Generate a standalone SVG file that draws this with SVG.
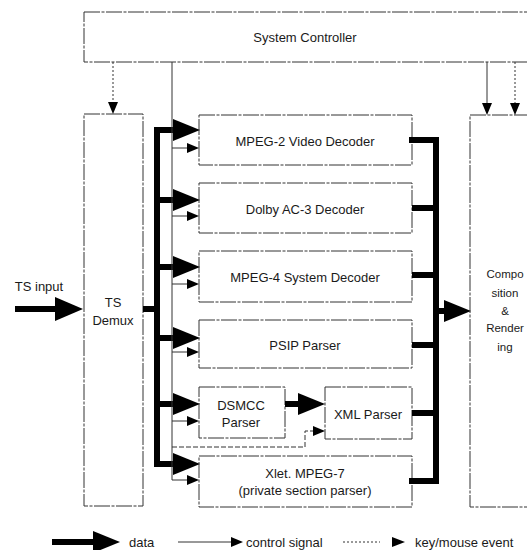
<svg xmlns="http://www.w3.org/2000/svg" width="527" height="550" viewBox="0 0 527 550">
<style>
.box{fill:#fff;stroke:#333;stroke-width:1;stroke-dasharray:16 1.5 3 1.5}
.t{font-family:"Liberation Sans",Arial,sans-serif;font-size:13px;fill:#1a1a1a;text-anchor:middle;dominant-baseline:central}
.c{font-family:"Liberation Sans",Arial,sans-serif;font-size:11.5px;fill:#1a1a1a;text-anchor:middle;dominant-baseline:central}
.l{font-family:"Liberation Sans",Arial,sans-serif;font-size:13px;fill:#1a1a1a;dominant-baseline:central}
.data{stroke:#000;stroke-width:6;fill:none}
.bus{stroke:#000;stroke-width:6;fill:none;stroke-linecap:square}
.ctrl{stroke:#333;stroke-width:1;fill:none}
.key{stroke:#333;stroke-width:1;fill:none;stroke-dasharray:2 2}
.dash{stroke:#333;stroke-width:1;fill:none;stroke-dasharray:5 2}
</style>
<defs>
<marker id="dh" markerUnits="userSpaceOnUse" viewBox="0 0 27 22" markerWidth="27" markerHeight="22" refX="0" refY="11" orient="auto"><path d="M0,0 L27,11 L0,22 z" fill="#000"/></marker>
<marker id="dhL" markerUnits="userSpaceOnUse" viewBox="0 0 28 24" markerWidth="28" markerHeight="24" refX="0" refY="12" orient="auto"><path d="M0,0 L28,12 L0,24 z" fill="#000"/></marker>
<marker id="ch" markerUnits="userSpaceOnUse" viewBox="0 0 12 10" markerWidth="12" markerHeight="10" refX="0" refY="5" orient="auto"><path d="M0,0 L12,5 L0,10 z" fill="#000"/></marker>
</defs>

<g id="sc"><rect class="box" x="84" y="12" width="450" height="50"/><text class="t" x="305" y="37">System Controller</text></g>
<g id="demux"><rect class="box" x="84" y="114" width="59" height="392"/><text class="t" x="113" y="302">TS</text><text class="t" x="113" y="320">Demux</text></g>
<g id="mpeg2"><rect class="box" x="199" y="115" width="213" height="50"/><text class="t" x="305" y="141">MPEG-2 Video Decoder</text></g>
<g id="dolby"><rect class="box" x="199" y="183" width="213" height="50"/><text class="t" x="305" y="209">Dolby AC-3 Decoder</text></g>
<g id="mpeg4"><rect class="box" x="199" y="251" width="213" height="51"/><text class="t" x="305" y="277">MPEG-4 System Decoder</text></g>
<g id="psip"><rect class="box" x="199" y="320" width="213" height="48"/><text class="t" x="305" y="345">PSIP Parser</text></g>
<g id="dsmcc"><rect class="box" x="199" y="387" width="86" height="51"/><text class="t" x="241" y="405">DSMCC</text><text class="t" x="241" y="422">Parser</text></g>
<g id="xml"><rect class="box" x="325" y="387" width="87" height="52"/><text class="t" x="368" y="414">XML Parser</text></g>
<g id="xlet"><rect class="box" x="199" y="456" width="213" height="51"/><text class="t" x="305" y="473">Xlet. MPEG-7</text><text class="t" x="305" y="490">(private section parser)</text></g>
<g id="comp"><rect class="box" x="470" y="115" width="70" height="392"/><text class="c" x="505" y="274">Compo</text><text class="c" x="505" y="293">sition</text><text class="c" x="505" y="311">&amp;</text><text class="c" x="505" y="328">Render</text><text class="c" x="505" y="347">ing</text></g>
<g id="tsinput"><text class="t" x="39" y="286">TS input</text></g>

<g id="connectors">
<path class="data" d="M15,309 H55" marker-end="url(#dhL)"/>
<path class="data" d="M143,309 H157"/>
<path class="bus" d="M157,130 V464"/>
<path class="data" d="M157,130 H173" marker-end="url(#dh)"/>
<path class="data" d="M157,200 H173" marker-end="url(#dh)"/>
<path class="data" d="M157,267 H173" marker-end="url(#dh)"/>
<path class="data" d="M157,338 H173" marker-end="url(#dh)"/>
<path class="data" d="M157,404 H173" marker-end="url(#dh)"/>
<path class="data" d="M157,464 H173" marker-end="url(#dh)"/>
<path class="ctrl" d="M172,62 V480"/>
<path class="ctrl" d="M172,148 H187" marker-end="url(#ch)"/>
<path class="ctrl" d="M172,216 H187" marker-end="url(#ch)"/>
<path class="ctrl" d="M172,284 H187" marker-end="url(#ch)"/>
<path class="ctrl" d="M172,352 H187" marker-end="url(#ch)"/>
<path class="ctrl" d="M172,421 H187" marker-end="url(#ch)"/>
<path class="ctrl" d="M172,480 H187" marker-end="url(#ch)"/>
<path class="dash" d="M172,447 H305 V431 H313" marker-end="url(#ch)"/>
<path class="data" d="M285,404 H298" marker-end="url(#dh)"/>
<path class="bus" d="M412,140 H436 V481 H412"/>
<path class="data" d="M412,208 H436"/>
<path class="data" d="M412,275 H436"/>
<path class="data" d="M412,345 H436"/>
<path class="data" d="M412,413 H436"/>
<path class="data" d="M436,311 H444" marker-end="url(#dh)"/>
<path class="key" d="M113,62 V102" marker-end="url(#ch)"/>
<path class="ctrl" d="M487,62 V103" marker-end="url(#ch)"/>
<path class="key" d="M515,62 V103" marker-end="url(#ch)"/>
</g>

<g id="legend">
<path class="data" d="M52,542 H93" marker-end="url(#dh)"/>
<text class="l" x="129" y="542">data</text>
<path class="ctrl" d="M178,542 H231" marker-end="url(#ch)"/>
<text class="l" x="246" y="542">control signal</text>
<path class="key" d="M343,542 H380"/>
<path d="M392,537 L405,542 L392,547 z" fill="#000"/>
<text class="l" x="415" y="542">key/mouse event</text>
</g>
</svg>
